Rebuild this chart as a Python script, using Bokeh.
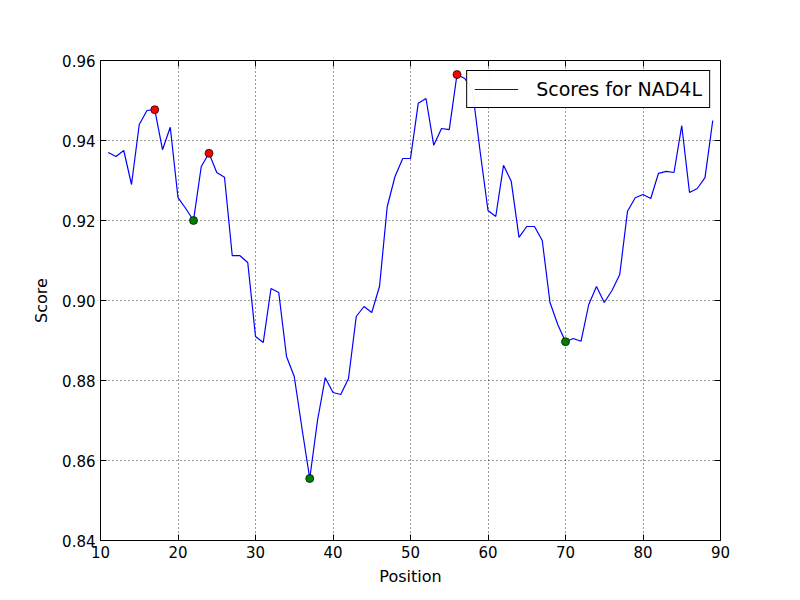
from bokeh.plotting import figure
from bokeh.models import LinearAxis, Range1d, FixedTicker, Legend, LegendItem, CustomJSTickFormatter
from bokeh.embed import file_html
from bokeh.resources import INLINE

positions = list(range(11, 90))
scores = [0.937, 0.936, 0.9375, 0.929, 0.944, 0.9475, 0.9477, 0.9377, 0.9433, 0.9257,
          0.923, 0.920, 0.9335, 0.9368, 0.932, 0.9308, 0.9112, 0.9112, 0.9095, 0.891,
          0.8895, 0.903, 0.902, 0.886, 0.881, 0.868, 0.8555, 0.870, 0.8807, 0.877,
          0.8765, 0.8805, 0.896, 0.8985, 0.897, 0.9035, 0.9235, 0.931, 0.9355, 0.9355,
          0.9493, 0.9505, 0.9388, 0.943, 0.9427, 0.9565, 0.9555, 0.9525, 0.937, 0.9225,
          0.921, 0.9338, 0.9298, 0.9158, 0.9185, 0.9185, 0.915, 0.8995, 0.894, 0.8897,
          0.8905, 0.8898, 0.899, 0.9035, 0.8995, 0.9025, 0.9065, 0.9223, 0.9257, 0.9265,
          0.9255, 0.9318, 0.9323, 0.932, 0.9437, 0.927, 0.928, 0.9307, 0.945]
max_pos = [17, 24, 56]
min_pos = [22, 37, 70]
max_vals = [scores[positions.index(p)] for p in max_pos]
min_vals = [scores[positions.index(p)] for p in min_pos]
x_ticks = [10, 20, 30, 40, 50, 60, 70, 80, 90]
y_ticks = [0.84, 0.86, 0.88, 0.90, 0.92, 0.94, 0.96]

p = figure(width=792, height=592, output_backend="svg", toolbar_location=None,
           x_range=Range1d(10, 90), y_range=Range1d(0.84, 0.96),
           min_border_left=100, min_border_right=72, min_border_top=60, min_border_bottom=52,
           x_axis_label="Position", y_axis_label="Score")
p.outline_line_color = "black"
p.outline_line_width = 1

r = p.line(positions, scores, line_color="blue", line_width=1.2)
p.scatter(max_pos, max_vals, size=8, fill_color="red", line_color="black", line_width=0.7)
p.scatter(min_pos, min_vals, size=8, fill_color="green", line_color="black", line_width=0.7)

p.xaxis.ticker = FixedTicker(ticks=x_ticks)
p.yaxis.ticker = FixedTicker(ticks=y_ticks)
p.yaxis.formatter = CustomJSTickFormatter(code="return tick.toFixed(2);")

for ax in [p.xaxis[0], p.yaxis[0]]:
    ax.major_tick_in = 6
    ax.major_tick_out = 0
    ax.minor_tick_out = 0
    ax.minor_tick_in = 0
    ax.axis_line_color = None
    ax.major_label_text_font = "DejaVu Sans"
    ax.major_label_text_font_size = "15px"
    ax.major_label_text_color = "black"
    ax.axis_label_text_font = "DejaVu Sans"
    ax.axis_label_text_font_size = "16px"
    ax.axis_label_text_font_style = "normal"
    ax.axis_label_text_color = "black"
p.xaxis.axis_label_standoff = 6
p.yaxis.axis_label_standoff = 8

blank = CustomJSTickFormatter(code="return '';")
top = LinearAxis(ticker=FixedTicker(ticks=x_ticks), formatter=blank,
                 major_tick_in=6, major_tick_out=0, minor_tick_in=0, minor_tick_out=0,
                 axis_line_color=None)
right = LinearAxis(ticker=FixedTicker(ticks=y_ticks), formatter=blank,
                   major_tick_in=6, major_tick_out=0, minor_tick_in=0, minor_tick_out=0,
                   axis_line_color=None)
p.add_layout(top, "above")
p.add_layout(right, "right")
p.min_border_top = 60
p.min_border_right = 72

p.grid.grid_line_color = "black"
p.grid.grid_line_dash = "1 3"
p.grid.grid_line_alpha = 0.8

legend = Legend(items=[LegendItem(label="Scores for NAD4L", renderers=[r])],
                location="top_right", label_text_font="DejaVu Sans",
                label_text_font_size="19px", label_text_color="black",
                border_line_color="black", border_line_alpha=1.0,
                border_line_width=1, glyph_width=44, margin=10, padding=7,
                spacing=0, label_standoff=18)
p.add_layout(legend)

open("out.html", "w").write(file_html(p, INLINE))
